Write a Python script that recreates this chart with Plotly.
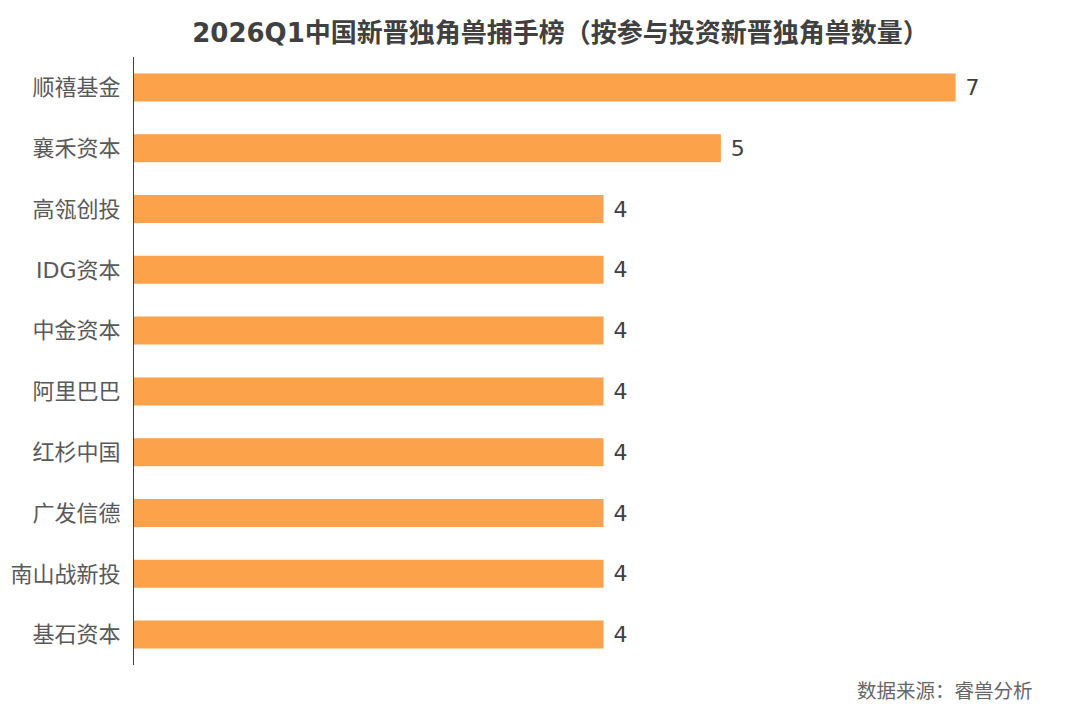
import plotly.graph_objects as go

categories = ["顺禧基金", "襄禾资本", "高瓴创投", "IDG资本", "中金资本",
              "阿里巴巴", "红杉中国", "广发信德", "南山战新投", "基石资本"]
values = [7, 5, 4, 4, 4, 4, 4, 4, 4, 4]

title_text = "2026Q1中国新晋独角兽捕手榜（按参与投资新晋独角兽数量）"
source_text = "数据来源：睿兽分析"

FONT = "DejaVu Sans, Noto Sans CJK SC, sans-serif"

fig = go.Figure(go.Bar(
    y=categories,
    x=values,
    orientation="h",
    marker=dict(color="#FBA24A", line=dict(width=0)),
    texttemplate=" %{x}",
    textposition="outside",
    textfont=dict(family=FONT, size=22, color="#404040"),
    cliponaxis=False,
))

fig.update_layout(
    width=1080, height=704,
    margin=dict(l=134, r=7, t=57, b=39),
    paper_bgcolor="white", plot_bgcolor="white",
    bargap=0.54,
    showlegend=False,
    title=dict(text="<b>" + title_text + "</b>", x=0.519, xanchor="center",
               y=1 - 33 / 704, yanchor="middle",
               font=dict(family=FONT, size=26, color="#404040")),
    xaxis=dict(range=[0, 8], visible=False),
    yaxis=dict(autorange="reversed", showgrid=False, zeroline=False,
               showline=True, linecolor="#404040", linewidth=1,
               ticks="", ticklabelstandoff=8,
               tickfont=dict(family=FONT, size=22, color="#595959")),
)
fig.add_annotation(text=source_text, xref="paper", yref="paper",
                   x=(1035 - 134) / (1080 - 134 - 7), y=-(691 - 665) / 608,
                   xanchor="right", yanchor="middle", showarrow=False,
                   font=dict(family=FONT, size=19.5, color="#666666"))

fig.write_html("out.html")
